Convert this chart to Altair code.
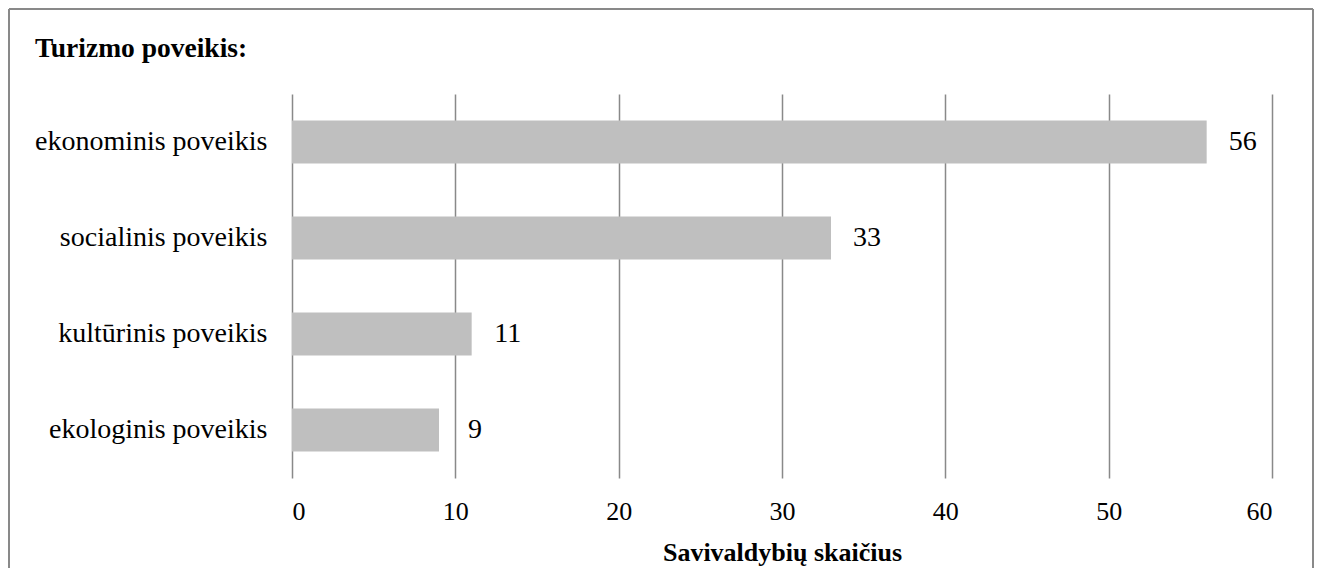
import altair as alt
import pandas as pd

categories = ["ekonominis poveikis", "socialinis poveikis", "kultūrinis poveikis", "ekologinis poveikis"]
values = [56, 33, 11, 9]
x_ticks = [0, 10, 20, 30, 40, 50, 60]
title_text = ["Turizmo poveikis:"]

df = pd.DataFrame({"cat": categories, "val": values})
FONT = "Liberation Serif"
FRAME = "#898989"
one = pd.DataFrame({"a": [0]})

# chart frame (left, top, right edges) drawn as rules, in plot-relative pixels
left = -283
right = 1021
top = -85
bottom = 600
frame_left = alt.Chart(one).mark_rule(color=FRAME, strokeWidth=2).encode(
    x=alt.value(left), y=alt.value(top), y2=alt.value(bottom))
frame_right = alt.Chart(one).mark_rule(color=FRAME, strokeWidth=2).encode(
    x=alt.value(right), y=alt.value(top), y2=alt.value(bottom))
frame_top = alt.Chart(one).mark_rule(color=FRAME, strokeWidth=2).encode(
    x=alt.value(left), x2=alt.value(right), y=alt.value(top))

title = alt.Chart(pd.DataFrame({"t": title_text})).mark_text(
    align="left", baseline="alphabetic", font=FONT, fontSize=27.5, fontWeight="bold",
    color="black"
).encode(text="t:N", x=alt.value(-257), y=alt.value(-37))

base = alt.Chart(df).encode(
    y=alt.Y("cat:N", sort=categories,
            scale=alt.Scale(paddingInner=0.55, paddingOuter=0.275),
            axis=alt.Axis(title=None, ticks=False, domain=False, labelPadding=25,
                          labelFontSize=28, labelFont=FONT, labelColor="black",
                          labelLimit=400)),
    x=alt.X("val:Q", scale=alt.Scale(domain=[0, 60], nice=False),
            axis=alt.Axis(values=x_ticks, title="Savivaldybių skaičius", grid=True,
                          gridColor=FRAME, gridWidth=1.5, ticks=False, domain=False,
                          labelPadding=20, labelFontSize=26, labelFont=FONT,
                          labelColor="black", titleFont=FONT, titleFontSize=26,
                          titleFontWeight="bold", titleColor="black", titlePadding=15)),
)

bars = base.mark_bar(color="#bfbfbf")
labels = base.mark_text(align="center", baseline="middle", dx=36, fontSize=28,
                        font=FONT, color="black").encode(text="val:Q")

chart = alt.layer(frame_left, frame_right, frame_top, title, bars, labels).properties(
    width=980, height=384,
    background="white",
    autosize=alt.AutoSizeParams(type="none"),
    padding={"left": 284, "top": 86, "right": 42, "bottom": 90},
).configure_view(strokeWidth=0, stroke="transparent")

chart.save("out.html", embed_options={"renderer": "svg", "actions": False})
